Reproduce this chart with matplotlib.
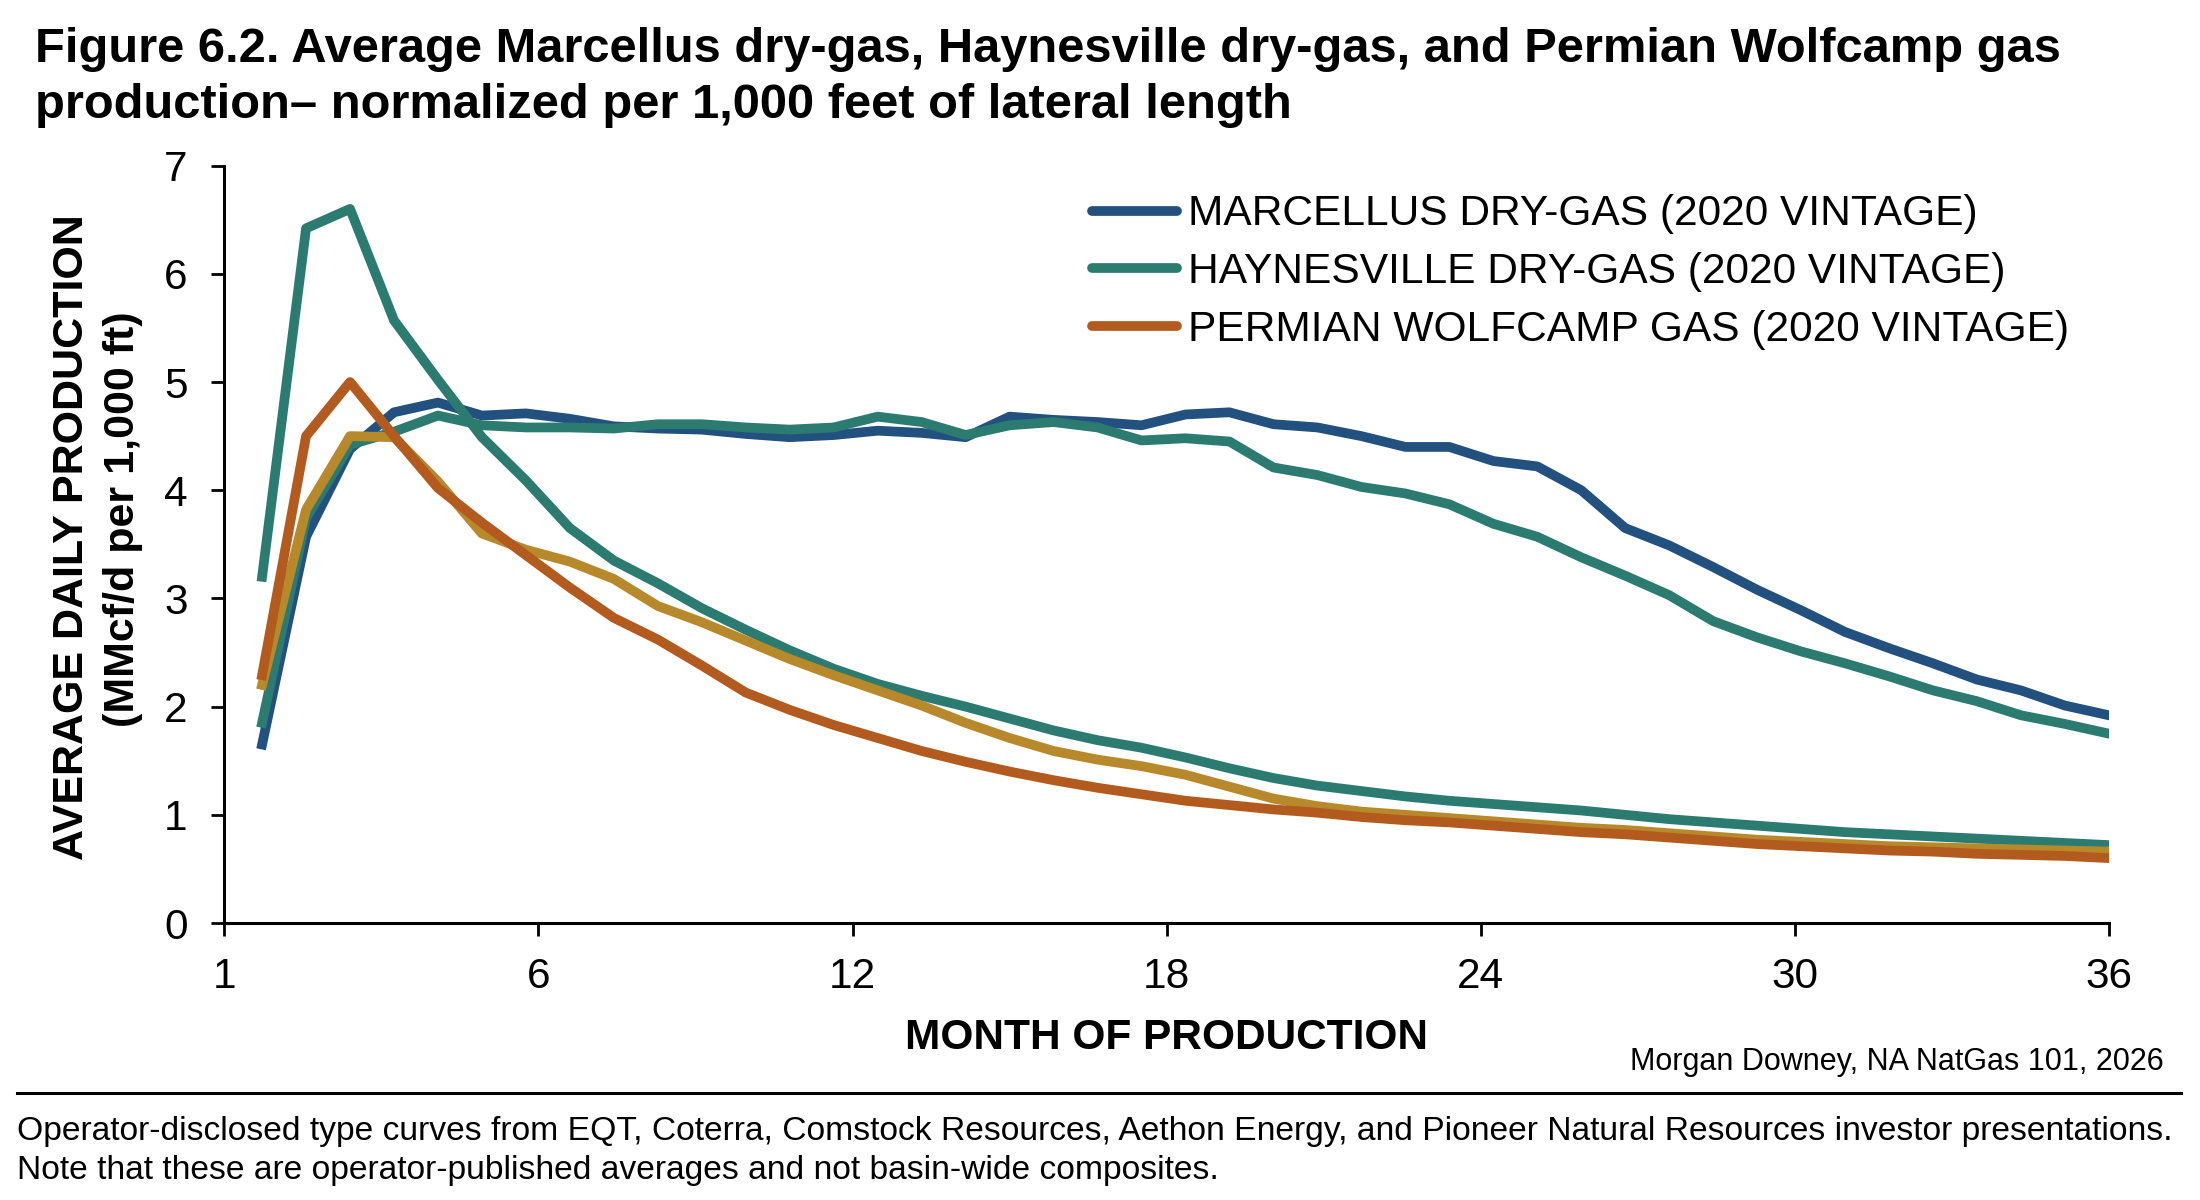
import numpy as np
import matplotlib
matplotlib.use("Agg")
import matplotlib.pyplot as plt
from matplotlib.lines import Line2D

plt.rcParams['font.family'] = ['Liberation Sans', 'DejaVu Sans']

# ---------------- data ----------------
# sample positions along the month axis (43 points, first ~0.7, last 36)
month = np.linspace(0.72, 36, 43)

marcellus = [1.65, 3.57, 4.38, 4.72, 4.81, 4.69, 4.71, 4.66, 4.59, 4.57,
             4.56, 4.52, 4.49, 4.51, 4.55, 4.53, 4.49, 4.68, 4.65, 4.63,
             4.60, 4.70, 4.72, 4.61, 4.58, 4.50, 4.40, 4.40, 4.27, 4.22,
             4.00, 3.65, 3.49, 3.29, 3.08, 2.89, 2.69, 2.54, 2.40, 2.25,
             2.15, 2.01, 1.92]

haynes_plateau = [1.85, 3.74, 4.42, 4.54, 4.69, 4.60, 4.58, 4.58, 4.57, 4.61,
                  4.61, 4.58, 4.56, 4.58, 4.68, 4.63, 4.51, 4.60, 4.63, 4.58,
                  4.46, 4.48, 4.45, 4.21, 4.14, 4.03, 3.97, 3.87, 3.69, 3.57,
                  3.38, 3.21, 3.03, 2.79, 2.64, 2.51, 2.40, 2.28, 2.15, 2.05,
                  1.92, 1.84, 1.75]

haynes_peak = [3.20, 6.42, 6.60, 5.57, 5.02, 4.49, 4.09, 3.65, 3.35, 3.14,
               2.91, 2.71, 2.52, 2.35, 2.21, 2.10, 2.00, 1.89, 1.78, 1.69,
               1.62, 1.53, 1.43, 1.34, 1.27, 1.22, 1.17, 1.13, 1.10, 1.07,
               1.04, 1.00, 0.96, 0.93, 0.90, 0.87, 0.84, 0.82, 0.80, 0.78,
               0.76, 0.74, 0.72]

permian = [2.29, 4.50, 5.00, 4.50, 4.02, 3.70, 3.40, 3.10, 2.82, 2.62,
           2.38, 2.13, 1.97, 1.83, 1.71, 1.59, 1.49, 1.40, 1.32, 1.25,
           1.19, 1.13, 1.09, 1.05, 1.02, 0.98, 0.95, 0.93, 0.90, 0.87,
           0.84, 0.82, 0.79, 0.76, 0.73, 0.71, 0.69, 0.67, 0.66, 0.64,
           0.63, 0.62, 0.60]

permian_alt = [2.20, 3.82, 4.50, 4.49, 4.08, 3.60, 3.45, 3.34, 3.18, 2.93,
               2.78, 2.61, 2.44, 2.29, 2.15, 2.01, 1.85, 1.71, 1.59, 1.51,
               1.45, 1.37, 1.26, 1.15, 1.08, 1.03, 1.00, 0.97, 0.94, 0.91,
               0.88, 0.86, 0.83, 0.80, 0.77, 0.75, 0.73, 0.71, 0.70, 0.69,
               0.68, 0.67, 0.66]

legend_labels = ["MARCELLUS DRY-GAS (2020 VINTAGE)",
                 "HAYNESVILLE DRY-GAS (2020 VINTAGE)",
                 "PERMIAN WOLFCAMP GAS (2020 VINTAGE)"]

xtick_pos = [0, 6, 12, 18, 24, 30, 36]
xtick_labels = ["1", "6", "12", "18", "24", "30", "36"]
ytick_pos = [0, 1, 2, 3, 4, 5, 6, 7]

# ---------------- style ----------------
C_BLUE = '#22507f'
C_TEAL = '#2b7b70'
C_ORANGE = '#b35b1e'
C_GOLD = '#b8892b'
LW = 7

fig = plt.figure(figsize=(22, 12), dpi=100)
ax = fig.add_axes([0.102, 0.2308, 0.8566, 0.6312])

ax.plot(month, marcellus, color=C_BLUE, lw=LW, zorder=2)
ax.plot(month, haynes_plateau, color=C_TEAL, lw=LW, zorder=3)
ax.plot(month, haynes_peak, color=C_TEAL, lw=LW, zorder=4)
ax.plot(month, permian_alt, color=C_GOLD, lw=LW, zorder=5)
ax.plot(month, permian, color=C_ORANGE, lw=LW, zorder=6)

ax.set_xlim(0, 36)
ax.set_ylim(0, 7)
ax.set_xticks(xtick_pos)
ax.set_xticklabels(xtick_labels)
ax.set_yticks(ytick_pos)
ax.tick_params(axis='both', labelsize=30.5, width=2, length=9.5, direction='out', color='black')
ax.tick_params(axis='x', pad=15)
ax.tick_params(axis='y', pad=17)
for s in ['top', 'right']:
    ax.spines[s].set_visible(False)
for s in ['left', 'bottom']:
    ax.spines[s].set_linewidth(2.2)

ax.set_xlabel("MONTH OF PRODUCTION", fontsize=30.5, fontweight='bold', labelpad=15)

fig.text(0.0327, 0.5525, "AVERAGE DAILY PRODUCTION", rotation=90, fontsize=31,
         fontweight='bold', ha='center', va='center')
fig.text(0.056, 0.567, "(MMcf/d per 1,000 ft)", rotation=90, fontsize=31,
         fontweight='bold', ha='center', va='center')

handles = [Line2D([0], [0], color=c, lw=LW, solid_capstyle='round')
           for c in (C_BLUE, C_TEAL, C_ORANGE)]
fig.legend(handles, legend_labels, loc='upper left', bbox_to_anchor=(0.4964, 0.838),
           frameon=False, fontsize=30.6, handlelength=2.0, handletextpad=0.25,
           labelspacing=0.42, borderpad=0, borderaxespad=0)

# titles
fig.text(0.016, 0.948, "Figure 6.2. Average Marcellus dry-gas, Haynesville dry-gas, and Permian Wolfcamp gas",
         fontsize=35.2, fontweight='bold', ha='left', va='baseline')
fig.text(0.016, 0.902, "production\u2013 normalized per 1,000 feet of lateral length",
         fontsize=35.2, fontweight='bold', ha='left', va='baseline')

fig.text(0.9836, 0.108, "Morgan Downey, NA NatGas 101, 2026", fontsize=22,
         ha='right', va='baseline')

fig.add_artist(Line2D([0.0077, 0.9914], [0.0892, 0.0892], color='black', lw=2.2,
                      transform=fig.transFigure))

fig.text(0.0077, 0.05, "Operator-disclosed type curves from EQT, Coterra, Comstock Resources, Aethon Energy, and Pioneer Natural Resources investor presentations.",
         fontsize=24.2, ha='left', va='baseline')
fig.text(0.0077, 0.0175, "Note that these are operator-published averages and not basin-wide composites.",
         fontsize=24.2, ha='left', va='baseline')

fig.savefig("out.png", dpi=100, facecolor='white')
